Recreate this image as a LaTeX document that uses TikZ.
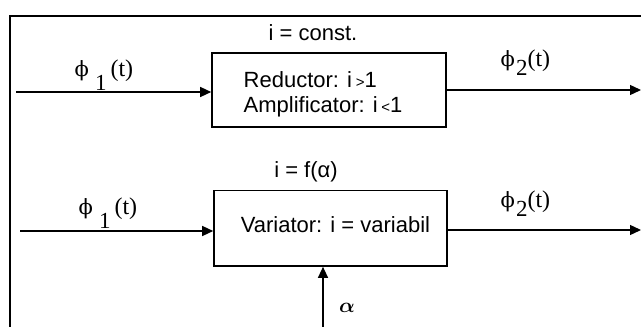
\documentclass[tikz,border=0pt]{standalone}
\usepackage{fontspec}
\setmainfont{Liberation Sans}
\newfontfamily\phfont{DejaVu Serif}
\newfontfamily\serfont{Liberation Serif}
\usepackage{bm}
\usetikzlibrary{arrows.meta}
% #1 digit, #2 gap before digit, #3 gap after digit, #4 drop of digit
\newcommand{\sglabel}[4]{{\phfont\fontsize{21}{21}\selectfont ϕ}\kern#2\raisebox{-#4}{\serfont\fontsize{23}{23}\selectfont #1}\kern#3{\serfont\fontsize{24}{24}\selectfont (t)}}
\begin{document}
\begin{tikzpicture}[x=1pt,y=-1pt,
  line width=1.4pt,
  blk/.style={draw, line width=1.6pt, minimum width=#1, inner sep=0pt},
  arr/.style={-{Triangle[length=11pt,width=10pt]}},
  lbl/.style={inner sep=0pt, font=\fontsize{22}{25}\selectfont},
  sig/.style={inner sep=0pt, anchor=base west}]
\useasboundingbox (0,0) rectangle (641,327);
% frame
\coordinate (ftr) at (641,16);
\coordinate (ftl) at (10,16);
\coordinate (fbl) at (10,327);
\draw[line width=1.6pt] (ftr) -- (ftl) -- (fbl);
% block 1
\node[blk=234pt, minimum height=74.5pt] (b1) at (329,90) {};
\node[lbl, anchor=base west] (t1a) at (243,87) {Reductor: i\,{\fontsize{15}{15}\selectfont>}1};
\node[lbl, anchor=base west] (t1b) at (243,112) {Amplificator: i\,{\fontsize{15}{15}\selectfont<}1};
\node[lbl, anchor=base] (c1) at (313,40) {i = const.};
\coordinate (in1) at (16,92);
\coordinate (out1) at (641,90);
\draw[arr] (in1) -- (in1 -| b1.west);
\draw[arr] (out1 -| b1.east) -- (out1);
\node[sig] (p11) at (74,76) {\sglabel{1}{6pt}{4pt}{14pt}};
\node[sig] (p21) at (500,66) {\sglabel{2}{1pt}{0pt}{9pt}};
% block 2
\node[blk=233pt, minimum height=75.5pt] (b2) at (330.5,228.3) {};
\node[lbl, anchor=base] (t2) at (335.5,232) {Variator: i = variabil};
\node[lbl, anchor=base] (c2) at (306,177) {i = f(α)};
\coordinate (in2) at (20,231);
\coordinate (out2) at (641,230);
\draw[arr] (in2) -- (in2 -| b2.west);
\draw[arr] (out2 -| b2.east) -- (out2);
\node[sig] (p12) at (78,214) {\sglabel{1}{6pt}{4pt}{14pt}};
\node[sig] (p22) at (500,207) {\sglabel{2}{1pt}{0pt}{9pt}};
\coordinate (alb) at (323,327);
\draw[arr] (alb) -- (alb |- b2.south);
\node[inner sep=0pt, font=\fontsize{20}{20}\selectfont] (alab) at (347,308) {$\bm{\alpha}$};
\end{tikzpicture}
\end{document}
